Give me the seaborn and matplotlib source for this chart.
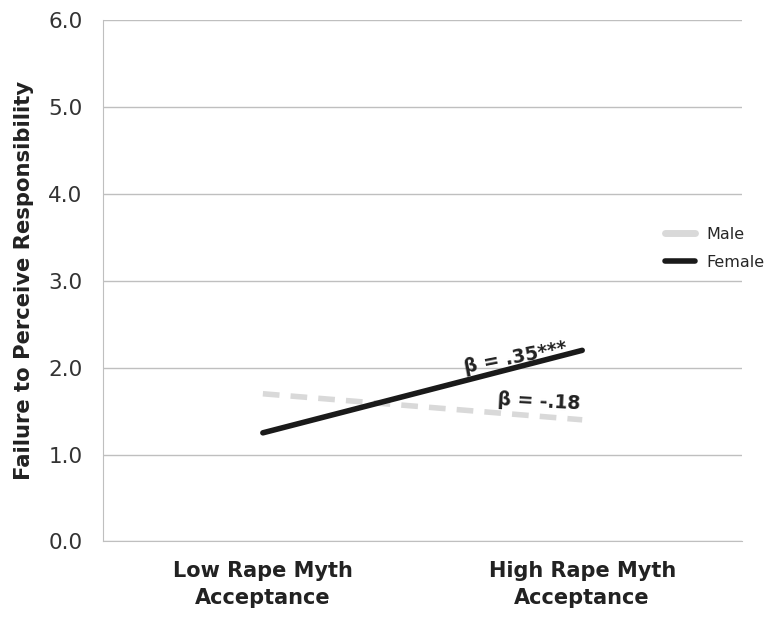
#!/usr/bin/env python3

import pandas as pd
import matplotlib.pyplot as plt
import seaborn as sns

# data
conditions = ['Low Rape Myth\nAcceptance', 'High Rape Myth\nAcceptance']
male = [1.70, 1.40]
female = [1.25, 2.20]
groups = ['Male', 'Female']
y_ticks = [0.0, 1.0, 2.0, 3.0, 4.0, 5.0, 6.0]

df = pd.DataFrame({
    'condition': conditions * 2,
    'x': [0, 1, 0, 1],
    'score': male + female,
    'gender': ['Male'] * 2 + ['Female'] * 2,
})

sns.set_style('white')
plt.rcParams['font.family'] = ['DejaVu Sans']

fig = plt.figure(figsize=(7.76, 6.18), dpi=100)
ax = fig.add_axes([0.133, 0.124, 0.823, 0.843])

sns.lineplot(
    data=df, x='x', y='score', hue='gender', style='gender',
    hue_order=groups, style_order=groups,
    palette={'Male': '#d9d9d9', 'Female': '#1a1a1a'},
    dashes={'Male': (3, 2), 'Female': ''},
    linewidth=4, ax=ax, legend=False,
)

ax.set_xlim(-0.5, 1.5)
ax.set_ylim(0, 6)
ax.set_yticks(y_ticks)
ax.set_yticklabels([f'{v:.1f}' for v in y_ticks], fontsize=15.5, color='#333333')
ax.set_xticks([0, 1])
ax.set_xticklabels(conditions, fontsize=15, fontweight='bold', color='#222222',
                   linespacing=1.45)
ax.tick_params(axis='y', length=0, pad=15)
ax.tick_params(axis='x', length=0, pad=14)
ax.grid(axis='y', color='#bfbfbf', linewidth=1)
ax.set_axisbelow(True)
for side in ['top', 'right']:
    ax.spines[side].set_visible(False)
for side in ['left', 'bottom']:
    ax.spines[side].set_color('#bfbfbf')
ax.set_xlabel('')
ax.set_ylabel('Failure to Perceive Responsibility', fontsize=15.2,
              fontweight='bold', color='#222222', labelpad=10)

ax.text(0.79, 2.12, 'β = .35***', rotation=11, fontsize=13.5, fontweight='bold',
        color='#222222', ha='center', va='center')
ax.text(0.865, 1.61, 'β = -.18', rotation=-3, fontsize=13.5, fontweight='bold',
        color='#222222', ha='center', va='center')

handles = [
    plt.Line2D([], [], color='#d9d9d9', linewidth=5, solid_capstyle='round'),
    plt.Line2D([], [], color='#1a1a1a', linewidth=4, solid_capstyle='round'),
]
leg = fig.legend(handles, groups, loc='upper left', bbox_to_anchor=(0.844, 0.649),
                 frameon=False, fontsize=11.5, handlelength=1.9, labelspacing=0.85,
                 handletextpad=0.7, borderaxespad=0.2)

fig.savefig('out.png', dpi=100)
